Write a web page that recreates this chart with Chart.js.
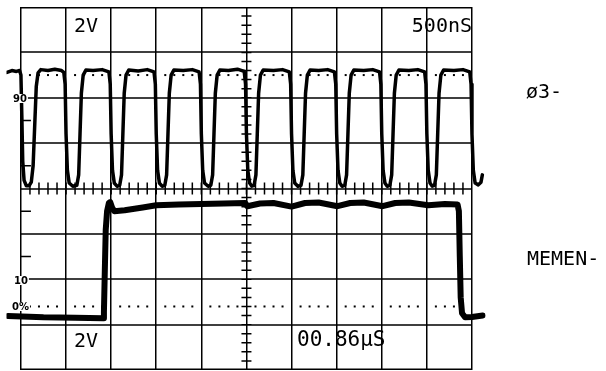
<!DOCTYPE html>
<html lang="en">
<head>
    <meta charset="UTF-8">
    <title>Scope Trace</title>
    <script src="https://cdn.jsdelivr.net/npm/chart.js"></script>
    <style>
        body {
            margin: 0;
            background: #fff;
        }
    </style>
</head>
<body>
    <canvas id="scopeChart" width="606" height="371"></canvas>
    <script>
        // Channel labels and scope readouts
        const channelNames = ['\u00f83-', 'MEMEN-'];
        const readouts = ['2V', '500nS', '2V', '00.86\u03bcS'];
        const levelMarks = ['90', '10', '0%'];

        // Trace points, [time in divisions, level in divisions]
        const phi3Points = [
            [-0.31, 2.56], [-0.2, 2.6], [-0.1, 2.58], [-0.03, 2.6], [0.0, 2.5], [0.02, 1.6], [0.04, 0.6], [0.07, 0.18],
            [0.12, 0.06], [0.18, 0.06], [0.23, 0.14], [0.27, 0.5], [0.31, 1.5], [0.34, 2.25], [0.38, 2.55], [0.44, 2.62],
            [0.6, 2.6], [0.75, 2.63], [0.9, 2.6], [0.95, 2.56],
            [0.98, 2.3], [1.0, 1.2], [1.03, 0.4], [1.07, 0.12], [1.15, 0.05], [1.24, 0.07], [1.28, 0.3], [1.31, 1.2],
            [1.34, 2.1], [1.38, 2.5], [1.44, 2.61], [1.6, 2.6], [1.8, 2.62], [1.95, 2.57],
            [1.98, 2.3], [2.0, 1.2], [2.03, 0.4], [2.07, 0.12], [2.13, 0.05], [2.19, 0.07], [2.23, 0.3], [2.26, 1.2],
            [2.29, 2.1], [2.33, 2.5], [2.39, 2.61], [2.6, 2.59], [2.8, 2.62], [2.95, 2.57],
            [2.98, 2.3], [3.0, 1.2], [3.03, 0.4], [3.07, 0.12], [3.13, 0.05], [3.19, 0.07], [3.23, 0.3], [3.26, 1.2],
            [3.29, 2.1], [3.33, 2.5], [3.39, 2.61], [3.6, 2.6], [3.8, 2.62], [3.95, 2.57],
            [3.98, 2.3], [4.0, 1.2], [4.03, 0.4], [4.07, 0.12], [4.15, 0.05], [4.21, 0.07], [4.25, 0.3], [4.28, 1.2],
            [4.31, 2.1], [4.35, 2.5], [4.41, 2.61], [4.6, 2.6], [4.8, 2.63], [4.95, 2.58],
            [4.98, 2.3], [5.0, 1.2], [5.03, 0.4], [5.07, 0.12], [5.12, 0.05], [5.17, 0.07], [5.21, 0.3], [5.24, 1.2],
            [5.27, 2.1], [5.31, 2.5], [5.37, 2.61], [5.6, 2.6], [5.8, 2.62], [5.95, 2.57],
            [5.98, 2.3], [6.0, 1.2], [6.03, 0.4], [6.07, 0.12], [6.14, 0.05], [6.21, 0.07], [6.25, 0.3], [6.28, 1.2],
            [6.31, 2.1], [6.35, 2.5], [6.41, 2.61], [6.6, 2.6], [6.8, 2.62], [6.95, 2.57],
            [6.98, 2.3], [7.0, 1.2], [7.03, 0.4], [7.07, 0.12], [7.12, 0.05], [7.18, 0.07], [7.22, 0.3], [7.25, 1.2],
            [7.28, 2.1], [7.32, 2.5], [7.38, 2.61], [7.6, 2.6], [7.8, 2.62], [7.95, 2.57],
            [7.98, 2.3], [8.0, 1.2], [8.03, 0.4], [8.07, 0.12], [8.12, 0.05], [8.18, 0.07], [8.22, 0.3], [8.25, 1.2],
            [8.28, 2.1], [8.32, 2.5], [8.38, 2.61], [8.6, 2.6], [8.8, 2.62], [8.95, 2.57],
            [8.98, 2.3], [9.0, 1.2], [9.03, 0.4], [9.07, 0.12], [9.12, 0.05], [9.17, 0.07], [9.21, 0.3], [9.24, 1.2],
            [9.27, 2.1], [9.31, 2.5], [9.37, 2.61], [9.6, 2.6], [9.8, 2.62], [9.95, 2.57],
            [9.98, 2.3], [10.0, 1.2], [10.03, 0.4], [10.07, 0.12], [10.14, 0.08], [10.2, 0.14], [10.23, 0.3]
        ];

        const memenPoints = [
            [-0.29, -2.81], [0.5, -2.84], [1.2, -2.85], [1.82, -2.86], [1.84, -2.72], [1.86, -1.8], [1.88, -0.91],
            [1.91, -0.5], [1.95, -0.32], [1.98, -0.3], [2.02, -0.42], [2.07, -0.5], [2.3, -0.48], [2.7, -0.42],
            [3.0, -0.37], [3.5, -0.35], [4.0, -0.34], [4.5, -0.33], [4.97, -0.32], [5.02, -0.39], [5.3, -0.33],
            [5.6, -0.32], [6.0, -0.4], [6.3, -0.32], [6.6, -0.31], [7.02, -0.39], [7.3, -0.32], [7.6, -0.31],
            [8.02, -0.39], [8.3, -0.32], [8.6, -0.31], [9.03, -0.37], [9.4, -0.34], [9.68, -0.35], [9.71, -0.5],
            [9.73, -1.5], [9.75, -2.4], [9.78, -2.75], [9.85, -2.84], [10.0, -2.83], [10.24, -2.8]
        ];

        // Graticule extras
        const dottedLevels = [2.5, -2.6];
        const halfDivMarks = [1.5, 0.5, -0.5, -1.5];
        const minorStep = 0.2;

        const graticule = {
            id: 'graticule',
            beforeDatasetsDraw(chart) {
                const ctx = chart.ctx;
                const xs = chart.scales.x, ys = chart.scales.y;
                const cx = xs.getPixelForValue(5), cy = ys.getPixelForValue(0);
                const lx = xs.getPixelForValue(0), rx = xs.getPixelForValue(10);
                ctx.save();
                ctx.strokeStyle = '#000';
                ctx.fillStyle = '#000';
                ctx.lineWidth = 1.5;
                ctx.beginPath();
                // horizontal division lines, only across the screen
                for (let v = -4; v <= 4; v++) {
                    const py = Math.round(ys.getPixelForValue(v)) + (v === 4 ? 0.75 : v === -4 ? -0.75 : 0);
                    ctx.moveTo(lx, py); ctx.lineTo(rx, py);
                }
                // minor ticks on centre lines
                for (let v = -4 + minorStep; v < 4 - 0.01; v += minorStep) {
                    const py = ys.getPixelForValue(v);
                    ctx.moveTo(cx - 5, py); ctx.lineTo(cx + 5, py);
                }
                for (let v = minorStep; v < 10 - 0.01; v += minorStep) {
                    const px = xs.getPixelForValue(v);
                    ctx.moveTo(px, cy - 6); ctx.lineTo(px, cy + 6);
                }
                // half division marks on left edge
                halfDivMarks.forEach(v => {
                    const py = ys.getPixelForValue(v);
                    ctx.moveTo(lx, py); ctx.lineTo(lx + 10, py);
                });
                ctx.stroke();
                // dotted reference lines
                dottedLevels.forEach(level => {
                    const py = ys.getPixelForValue(level);
                    for (let k = 0; k < 10; k++) {
                        for (let j = 1; j <= 4; j++) {
                            const px = xs.getPixelForValue(k + j * minorStep);
                            ctx.fillRect(px - 1, py - 1, 2, 2);
                        }
                    }
                });
                ctx.restore();
            },
            afterDraw(chart) {
                const ctx = chart.ctx;
                ctx.save();
                ctx.fillStyle = '#000';
                ctx.textBaseline = 'alphabetic';
                ctx.font = '20px "DejaVu Sans Mono"';
                ctx.fillText(readouts[0], 74, 32);
                ctx.textAlign = 'right';
                ctx.fillText(readouts[1], 472, 32);
                ctx.textAlign = 'left';
                ctx.fillText(readouts[2], 74, 347);
                ctx.font = '21px "DejaVu Sans Mono"';
                ctx.fillText(readouts[3], 297, 346);
                ctx.font = '20px "DejaVu Sans Mono"';
                ctx.fillText(channelNames[0], 526, 98);
                ctx.fillText(channelNames[1], 527, 265);
                // level marks on left edge
                ctx.font = 'bold 10px "DejaVu Sans"';
                const spots = [[13, 102], [14, 284], [12, 310]];
                levelMarks.forEach((t, i) => {
                    const w = ctx.measureText(t).width;
                    ctx.fillStyle = '#fff';
                    ctx.fillRect(spots[i][0] - 1, spots[i][1] - 8, w + 2, 9);
                    ctx.fillStyle = '#000';
                    ctx.fillText(t, spots[i][0], spots[i][1]);
                });
                ctx.restore();
            }
        };

        function toXY(points) {
            return points.map(p => ({ x: p[0], y: p[1] }));
        }

        const ctx = document.getElementById('scopeChart').getContext('2d');
        new Chart(ctx, {
            type: 'line',
            data: {
                datasets: [
                    {
                        label: channelNames[0],
                        data: toXY(phi3Points),
                        borderColor: '#000',
                        borderWidth: 3.5,
                        pointRadius: 0,
                        tension: 0,
                        borderJoinStyle: 'round',
                        borderCapStyle: 'round'
                    },
                    {
                        label: channelNames[1],
                        data: toXY(memenPoints),
                        borderColor: '#000',
                        borderWidth: 6,
                        pointRadius: 0,
                        tension: 0,
                        borderJoinStyle: 'round',
                        borderCapStyle: 'round'
                    }
                ]
            },
            options: {
                responsive: false,
                animation: false,
                layout: { padding: { left: 6.5, right: 120.5, top: 7, bottom: 1 } },
                plugins: {
                    legend: { display: false },
                    tooltip: { enabled: false }
                },
                scales: {
                    x: {
                        type: 'linear',
                        min: -0.32,
                        max: 10.3,
                        afterBuildTicks: axis => {
                            axis.ticks = [0, 1, 2, 3, 4, 5, 6, 7, 8, 9, 10].map(v => ({ value: v }));
                        },
                        ticks: { display: false },
                        border: { display: false },
                        grid: { color: '#000', lineWidth: 1.5, drawTicks: false }
                    },
                    y: {
                        type: 'linear',
                        display: false,
                        min: -4,
                        max: 4
                    }
                }
            },
            plugins: [graticule]
        });
    </script>
</body>
</html>
